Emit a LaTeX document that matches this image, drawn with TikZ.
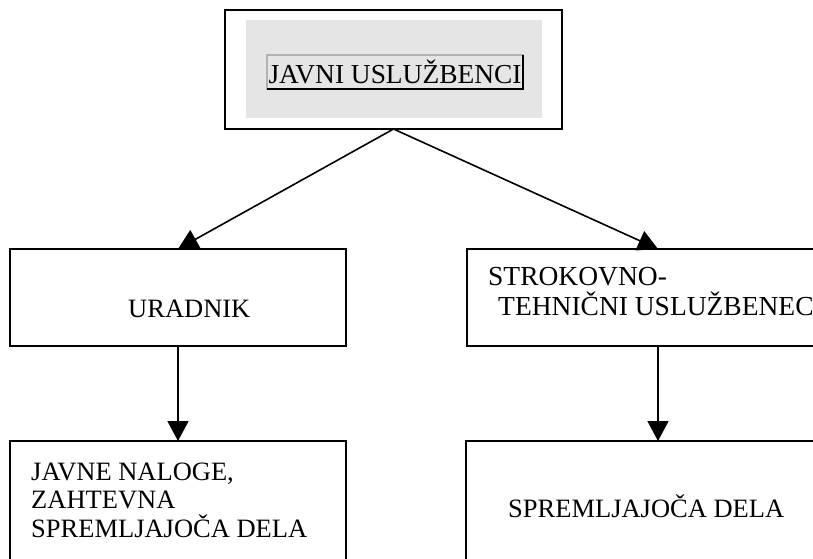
\documentclass[tikz,border=0pt]{standalone}
\usepackage{fontspec}
\setmainfont{Liberation Serif}
\usetikzlibrary{arrows.meta}
\begin{document}
\begin{tikzpicture}[x=1pt,y=-1pt,
  box/.style={draw,line width=2pt,outer sep=0pt,inner sep=0pt},
  txt/.style={inner sep=0pt,align=left,font=\fontsize{26.5}{28.5}\selectfont},
  arr/.style={-{Triangle[length=20pt,width=21pt]},line width=1.6pt}]
  \useasboundingbox (0,0) rectangle (813,558);
  \clip (0,0) rectangle (813,558);
  \node[box,line width=2.4pt,minimum width=337pt,minimum height=119pt] (Top) at (393.5,69.5) {};
  \node[fill=black!10,minimum width=296pt,minimum height=98pt,inner sep=0pt] (Panel) at (394,69) {};
  \node[draw=black!30,fill=black!10,line width=1.2pt,outer sep=0pt,inner xsep=1.5pt,minimum height=34pt,
    font=\fontsize{27.4}{30}\selectfont] (Title) at (395,72) {JAVNI USLUŽBENCI};
  \draw[line width=1.2pt] (Title.north east) -- (Title.south east) -- (Title.south west);
  \node[box,minimum width=336pt,minimum height=97pt] (Urad) at (178,297.5) {};
  \node[box,minimum width=382pt,minimum height=97pt] (Strok) at (658,297.5) {};
  \node[box,minimum width=336pt,minimum height=140pt] (Nal) at (178,511) {};
  \node[box,minimum width=383pt,minimum height=140pt] (Sprem) at (657.5,511) {};
  \node[txt,anchor=base west] (UradT) at (128,317) {URADNIK};
  \node[txt,anchor=base west,font=\fontsize{27.5}{30}\selectfont] (StrokT) at (488,315)
    {STROKOVNO-\\\hspace*{10pt}TEHNIČNI USLUŽBENEC};
  \node[txt,anchor=base west] (NalT) at (31,537) {JAVNE NALOGE,\\ZAHTEVNA\\SPREMLJAJOČA DELA};
  \node[txt,anchor=base west] (SpremT) at (508,517) {SPREMLJAJOČA DELA};
  \draw[arr] (Top.south) -- (Urad.north);
  \draw[arr] (Top.south) -- (Strok.north);
  \draw[arr] (Urad.south) -- (Nal.north);
  \draw[arr] (Strok.south) -- (Strok.south |- Sprem.north);
\end{tikzpicture}
\end{document}
